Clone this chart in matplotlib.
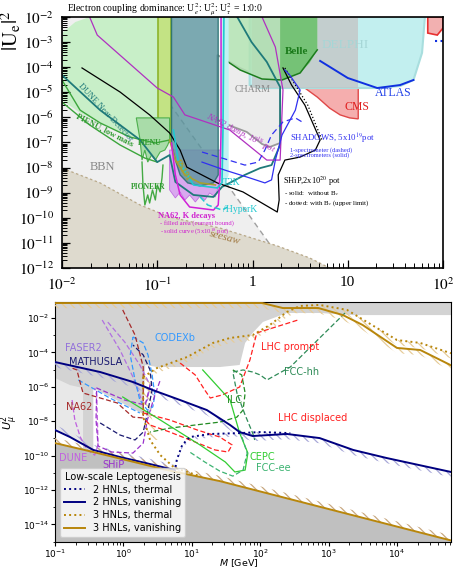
import numpy as np
import matplotlib
matplotlib.use("Agg")
import matplotlib.pyplot as plt
from matplotlib.ticker import FixedLocator, FixedFormatter, LogLocator, NullFormatter

plt.rcParams['hatch.linewidth'] = 0.9
SERIF = ['Liberation Serif', 'DejaVu Serif']

# ---------------- top panel: log10(M/GeV), log10(|U_e|^2) ----------------
bbn_m = [-2.0, -1.52, 0.36, -2.0]
bbn_u = [-2.0, -2.0, -12.0, -12.0]
seesaw_m = [-2.0, -1.60, -1.18, -0.87, -0.34, 0.26, 0.60, 0.81]
seesaw_u = [-8.02, -8.61, -9.49, -9.97, -10.41, -11.12, -11.60, -12.0]
green_m = [-2.0, -1.86, -1.71, -0.85, -0.85, -1.08, -1.29, -1.55, -1.81, -2.0]
green_u = [-2.64, -2.20, -2.0, -2.0, -6.98, -6.98, -6.78, -6.30, -5.82, -5.31]
band_m = [-0.99, -0.86, -0.86, -0.99]
band_u = [-2.0, -2.0, -6.98, -6.98]
teal_m = [-0.85, -0.36, -0.36, -0.41, -0.55, -0.68, -0.76, -0.81, -0.85]
teal_u = [-2.0, -2.0, -8.29, -8.61, -8.73, -8.61, -8.29, -7.70, -7.10]
na62k_m = [-0.87, -0.87, -0.81, -0.76, -0.71, -0.66, -0.60, -0.55, -0.50, -0.45, -0.39, -0.34, -0.32, -0.32]
na62k_u = [-7.30, -8.89, -9.21, -8.97, -9.29, -9.09, -9.37, -9.13, -9.29, -9.01, -9.17, -8.49, -7.70, -7.30]
na62sol_m = [-0.85, -0.81, -0.76, -0.66, -0.41, -0.36, -0.34, -0.33, -0.33]
na62sol_u = [-7.02, -8.29, -9.09, -9.57, -9.69, -9.49, -8.29, -6.50, -2.0]
dump_m = [-1.71, -1.63, -1.00, -0.83, -0.71, -0.24, 0.15, 0.29, 0.32, 0.24, 0.10]
dump_u = [-2.0, -2.72, -4.83, -5.19, -5.90, -6.50, -7.70, -7.70, -4.91, -3.20, -2.0]
dune_m = [-2.0, -1.60, -1.18, -1.00, -0.87, -0.81, -0.62, -0.41, -0.32, -0.18, -0.08,
          0.08, 0.20, 0.29, 0.29, 0.15, -0.01, -0.16]
dune_u = [-4.31, -5.71, -6.90, -7.78, -7.50, -8.57, -9.09, -9.17, -8.77, -8.49, -8.29,
          -8.02, -7.90, -7.10, -4.79, -3.79, -3.0, -2.0]
ship_m = [-1.79, -1.39, -1.08, -0.87, -0.76, -0.69, -0.37, -0.10, 0.08, 0.26, 0.28, 0.27,
          0.34, 0.50, 0.66, 0.71, 0.55, 0.41, 0.32]
ship_u = [-4.03, -4.99, -5.90, -6.62, -7.30, -7.98, -8.61, -8.97, -9.37, -9.77, -9.29,
          -8.29, -7.70, -7.58, -7.30, -6.90, -5.51, -4.71, -4.03]
shipdot_m = [0.34, 0.45, 0.58, 0.73]
shipdot_u = [-4.03, -4.71, -5.51, -6.90]
t2k_m = [-0.83, -0.78, -0.62, -0.37, -0.32, -0.31, -0.30]
t2k_u = [-6.50, -7.70, -8.69, -8.81, -8.61, -6.50, -2.0]
t2kband_m = [-0.34, -0.25, -0.25, -0.29, -0.34]
t2kband_u = [-2.0, -2.0, -8.29, -8.69, -8.49]
hyperk_m = [-0.55, -0.47, -0.32, -0.26]
hyperk_u = [-9.17, -9.49, -9.69, -9.57]
ps191_m = [-0.87, -0.81, -0.71, -0.55, -0.39]
ps191_u = [-6.90, -7.70, -8.29, -8.61, -8.69]
shad2_m = [-0.53, -0.29, -0.03, 0.13, 0.20, 0.24, 0.31, 0.45, 0.50, 0.39, 0.34]
shad2_u = [-7.78, -8.10, -8.41, -8.61, -8.49, -7.70, -6.70, -5.71, -4.91, -4.31, -4.11]
shad1_m = [-0.53, -0.32, -0.08, 0.06, 0.13, 0.20, 0.32, 0.45, 0.52]
shad1_u = [-7.38, -7.62, -7.90, -7.78, -7.30, -6.70, -6.18, -6.02, -6.18]
pienu_m = [-1.22, -1.18, -1.16, -1.13, -1.10, -1.06, -1.02, -0.97, -0.92, -0.89, -0.87, -0.87]
pienu_u = [-6.02, -6.90, -7.70, -7.30, -7.78, -7.50, -7.70, -7.38, -7.30, -7.10, -6.90, -6.02]
pioneer_m = [-1.16, -1.15, -1.13, -1.10, -1.08, -1.05, -1.02, -1.00, -0.97, -0.95, -0.94]
pioneer_u = [-7.78, -8.69, -9.49, -9.09, -9.41, -8.89, -9.29, -8.69, -8.97, -8.41, -7.90]
pienulow_m = [-2.0, -1.81, -1.60, -1.29, -1.02, -0.87]
pienulow_u = [-4.51, -5.71, -6.22, -6.78, -7.02, -6.90]
pienulow2_m = [-2.0, -1.71, -1.39, -1.13, -1.00]
pienulow2_u = [-5.39, -6.30, -7.10, -7.62, -7.78]
charm_m = [-0.37, -0.13, 0.10, 0.29, 0.29, 0.18, 0.10, -0.06, -0.20, -0.37]
charm_u = [-3.51, -4.03, -4.43, -4.59, -7.02, -7.18, -7.06, -6.58, -6.38, -6.10]
greenA_m = [-0.34, 0.68, 0.68, 0.50, 0.31, 0.10, -0.13, -0.32]
greenA_u = [-2.0, -2.0, -3.31, -4.23, -4.51, -4.47, -4.11, -3.63]
belle_m = [0.29, 0.68, 0.68, 0.60, 0.50, 0.31, 0.29]
belle_u = [-2.0, -2.0, -3.31, -3.83, -4.23, -4.51, -4.51]
delphi_m = [-0.03, 1.81, 1.78, 1.69, 1.55, 1.31, 0.08, -0.03]
delphi_u = [-2.0, -2.0, -3.43, -4.51, -4.75, -4.83, -4.83, -4.71]
dgray_m = [-0.01, 1.11, 1.11, -0.01]
dgray_u = [-2.0, -2.0, -4.83, -4.83]
cms_m = [0.39, 0.55, 0.68, 0.81, 0.92, 1.02, 1.11, 1.11]
cms_u = [-4.31, -4.83, -5.19, -5.63, -5.90, -6.02, -6.06, -4.31]
atlas_m = [0.71, 1.00, 1.31, 1.55, 1.69]
atlas_u = [-3.75, -4.43, -4.83, -4.71, -4.51]
red_m = [1.84, 1.84, 1.94, 2.0, 2.0]
red_u = [-2.0, -2.64, -2.72, -2.44, -2.0]

# ---------------- bottom panel: log10(M/GeV), log10(U_mu^2) ----------------
gray_m = [-1.0, 4.79, 4.79, 3.36, 2.87, 2.39, 2.04, 1.89, 1.78, 1.70, 1.41, 0.49, 0.32,
          0.29, -0.44, -0.44, -0.59, -0.59, -0.78, -1.0]
gray_u = [-0.5, -0.5, -1.83, -1.83, -1.71, -1.71, -2.23, -2.87, -3.45, -4.73, -4.85, -4.85,
          -4.73, -7.58, -6.07, -10.14, -10.14, -6.07, -5.90, -5.49]
lgray_m = [-1.0, -0.59, -0.59, -0.44, -0.44, -0.78, -1.0]
lgray_u = [-5.49, -6.07, -10.14, -10.14, -9.79, -8.92, -8.40]
van3_lo_m = [-1.0, -0.44, 0.64, 1.41, 4.77, 4.79]
van3_lo_u = [-9.27, -9.79, -10.84, -11.48, -14.91, -14.93]
van3_hi_m = [-1.0, 2.03, 2.33, 2.85, 3.21, 3.50, 4.00, 4.34, 4.79]
van3_hi_u = [-1.13, -1.13, -1.42, -1.42, -1.83, -2.41, -3.74, -3.86, -4.75]
th3_hi_m = [0.29, 0.49, 0.93, 1.31, 1.56, 1.89, 2.14, 2.39, 2.58, 2.87, 3.27, 3.56, 4.00, 4.34, 4.79]
th3_hi_u = [-5.43, -4.91, -4.27, -3.45, -3.16, -2.99, -2.41, -1.65, -1.30, -1.24, -1.53,
            -2.23, -3.28, -3.45, -4.05]
th3_lo_m = [0.29, 0.29, 0.39, 0.54, 0.75, 1.12]
th3_lo_u = [-5.43, -7.76, -9.09, -9.97, -10.72, -11.19]
van2_hi_m = [-1.0, -0.34, 0.14, 0.43, 0.83, 1.22, 1.56, 1.70, 1.89, 2.39, 2.87, 3.36, 3.85, 4.79]
van2_hi_u = [-4.56, -5.14, -5.72, -6.19, -6.77, -7.35, -8.22, -8.63, -8.86, -8.74, -8.98,
             -9.67, -10.14, -10.95]
van2_lo_m = [-1.0, -0.78, -0.44, -0.05, 0.39, 0.75]
van2_lo_u = [-8.51, -8.92, -9.67, -10.08, -10.49, -10.84]
th2_m = [0.75, 0.78, 0.86, 0.97, 1.27, 1.70, 2.00, 2.44]
th2_u = [-10.95, -10.26, -9.38, -8.92, -8.74, -8.69, -8.63, -8.69]

faser_m = [-0.31, -0.05, 0.14, 0.24, 0.29, 0.35, 0.39, 0.24, 0.02, -0.23]
faser_u = [-2.12, -3.86, -5.43, -6.48, -7.06, -6.77, -5.90, -4.73, -3.40, -2.23]
mathusla_m = [-0.34, -0.05, 0.17, 0.29, 0.36, 0.42, 0.39, 0.29, 0.14]
mathusla_u = [-8.10, -8.80, -9.09, -8.63, -7.35, -6.19, -5.02, -4.15, -3.57]
codex_m = [0.14, 0.29, 0.36, 0.42, 0.46, 0.43, 0.35, 0.24, 0.17, 0.10, 0.14]
codex_u = [-3.10, -3.45, -4.15, -5.31, -6.48, -7.17, -7.35, -6.77, -5.60, -4.15, -3.10]
codex2_m = [-0.66, -0.20, 0.24]
codex2_u = [-5.60, -6.65, -7.52]
na62_m = [-0.01, 0.17, 0.29, 0.29, 0.14, -0.09, -0.39, -0.59, -0.63, -0.68, -0.75]
na62_u = [-1.53, -2.99, -4.85, -7.81, -7.76, -6.94, -6.59, -6.36, -5.78, -5.02, -4.91]
dune2_m = [-0.75, -0.71, -0.63, -0.53, -0.42, -0.37, -0.39, -0.42]
dune2_u = [-6.77, -7.93, -8.92, -9.67, -9.97, -9.38, -6.48, -6.07]
ship2_m = [0.39, 0.32, 0.02, -0.39, -0.40, -0.37, -0.17, 0.14, 0.29, 0.35, 0.46, 0.54]
ship2_u = [-5.90, -7.06, -6.77, -6.07, -7.93, -9.44, -9.79, -9.85, -9.27, -7.93, -6.48, -5.60]
lhcp_m = [0.83, 1.05, 1.19, 1.27, 1.44, 1.70, 1.85, 1.95, 2.55]
lhcp_u = [-4.62, -5.31, -6.19, -6.65, -6.48, -6.01, -4.44, -2.87, -2.12]
lhcd_m = [0.29, 0.68, 1.08, 1.41, 1.59, 1.53, 1.34, 1.05, 0.68, 0.39, 0.29]
lhcd_u = [-7.52, -7.93, -8.51, -8.92, -9.38, -9.79, -9.67, -9.21, -8.63, -8.22, -7.81]
ilc_m = [1.60, 1.73, 1.78, 1.75, 1.66, 1.41, 1.05, 0.68, 0.39]
ilc_u = [-5.02, -5.31, -6.36, -7.35, -7.76, -8.05, -8.22, -8.40, -8.63]
fcchh_m = [3.24, 2.44, 2.10, 2.00, 1.89, 1.75, 1.60, 1.66, 1.78, 1.89, 1.92]
fcchh_u = [-1.71, -4.85, -5.60, -5.31, -5.14, -5.02, -5.14, -6.36, -7.64, -8.69, -9.09]
cepc_m = [-0.01, 0.54, 1.12, 1.49, 1.63, 1.78, 1.82, 1.70, 1.56, 1.16]
cepc_u = [-6.59, -7.93, -9.38, -10.37, -10.95, -10.84, -9.85, -8.69, -6.77, -5.02]
fccee_m = [1.70, 1.81, 1.75, 1.60, 1.41, 1.19, 0.97]
fccee_u = [-8.51, -9.85, -10.84, -11.19, -10.90, -10.37, -9.79]


def P(v):
    return 10.0 ** np.asarray(v, dtype=float)


def hatch_band(ax, m, u, side, color, hatch, width=0.3):
    x, y = P(m), P(u)
    y2 = y * 10 ** (-width) if side == 'below' else y * 10 ** width
    ax.fill_between(x, y, y2, facecolor='none', edgecolor=color, hatch=hatch,
                    linewidth=0, zorder=3)


fig = plt.figure(figsize=(4.53, 5.71), dpi=100)

# ======================= top panel =======================
ax = fig.add_axes([62 / 453, 1 - 268 / 571, 381 / 453, 251 / 571])
ax.set_xscale('log')
ax.set_yscale('log')

ax.fill(P(bbn_m), P(bbn_u), color='#efefef', lw=0, zorder=0)
ax.plot(P(bbn_m[1:3]), P(bbn_u[1:3]), ls=(0, (4, 3)), color='#a0a0a0', lw=1.0, zorder=1)
ax.fill(P(seesaw_m + [-2.0]), P(seesaw_u + [-12.0]), color='#dedace', lw=0, zorder=1)
ax.plot(P(seesaw_m), P(seesaw_u), ls=(0, (2, 2)), color='#b8a888', lw=0.9, zorder=1)

ax.fill(P(green_m), P(green_u), color='#c8efc8', lw=0, zorder=1)
ax.fill(P(charm_m), P(charm_u), facecolor='#ececec', edgecolor='#9a9a9a', lw=1.3, zorder=2)
ax.plot(P([0.29, 0.29]), P([-2.0, -4.59]), color='#a8a8a8', lw=1.0, zorder=2)
ax.fill(P(cms_m), P(cms_u), facecolor='#f5aeae', edgecolor='#e04848', lw=1.0, zorder=2)
ax.fill(P(delphi_m), P(delphi_u), facecolor='#c2efef', edgecolor='#a8dede', lw=1.5, zorder=2)
ax.fill(P(dgray_m), P(dgray_u), facecolor='#c4c4c4', alpha=0.75, lw=0, zorder=2)
ax.fill(P(greenA_m), P(greenA_u), facecolor='#b2e2b2', alpha=0.85, lw=0, zorder=3)
ax.fill(P(belle_m), P(belle_u), facecolor='#6fbf6f', alpha=0.9, lw=0, zorder=3)
ax.plot(P(greenA_m[2:]), P(greenA_u[2:]), color='#1c7d1c', lw=1.1, zorder=3)
ax.fill(P(red_m), P(red_u), facecolor='#f2b0b0', edgecolor='#e83030', lw=1.2, zorder=3)
ax.plot(P([1.92, 2.0]), P([-2.96, -2.96]), color='#1030e0', ls=':', lw=1.5, zorder=3)
ax.plot(P(atlas_m), P(atlas_u), color='#1030e0', lw=1.4, zorder=4)

ax.fill(P(band_m), P(band_u), facecolor='#c3e384', edgecolor='#8db32b', lw=1.2, zorder=3)
ax.fill(P(na62k_m), P(na62k_u), facecolor='#d9a8ef', edgecolor='#c070e0', lw=0.6, zorder=3)
ax.fill(P(teal_m), P(teal_u), facecolor='#5a949e', alpha=0.8, edgecolor='#1e6b6b', lw=1.0, zorder=4)
ax.fill(P(t2kband_m), P(t2kband_u), facecolor='#bff3f3', lw=0, zorder=4)
ax.fill(P(pienu_m), P(pienu_u), facecolor='#a9dca9', edgecolor='#4caf4c', lw=0.8, zorder=4)
ax.plot(P(pioneer_m), P(pioneer_u), color='#44aa44', lw=1.0, zorder=4)
ax.plot(P(pienulow_m), P(pienulow_u), color='#3ca63c', lw=1.0, zorder=4)
ax.plot(P(pienulow2_m), P(pienulow2_u), color='#3ca63c', lw=1.0, zorder=4)

ax.plot(P(ps191_m), P(ps191_u), color='#a8a030', lw=1.2, zorder=5)
ax.plot(P(dune_m), P(dune_u), color='#1f7a7a', lw=1.3, zorder=5)
ax.plot(P(ship_m), P(ship_u), color='black', lw=0.9, zorder=5)
ax.plot(P(shipdot_m), P(shipdot_u), color='black', lw=0.9, ls=':', zorder=5)
ax.plot(P(dump_m), P(dump_u), color='#b030c0', lw=0.9, zorder=5)
ax.plot(P(na62sol_m), P(na62sol_u), color='#d020d8', lw=1.1, zorder=5)
ax.plot(P(t2k_m), P(t2k_u), color='#20c8d0', lw=1.2, zorder=5)
ax.plot(P(hyperk_m), P(hyperk_u), color='#20c8d0', lw=1.1, ls=(0, (4, 2)), zorder=5)
ax.plot(P(shad2_m), P(shad2_u), color='#3030f0', lw=0.9, zorder=5)
ax.plot(P(shad1_m), P(shad1_u), color='#3030f0', lw=0.9, ls=(0, (5, 3)), zorder=5)

ax.set_xlim(1e-2, 1e2)
ax.set_ylim(1e-12, 1e-2)
ax.xaxis.set_major_locator(FixedLocator([1e-2, 1e-1, 1, 10, 100]))
ax.xaxis.set_major_formatter(FixedFormatter(['$10^{-2}$', '$10^{-1}$', '1', '10', '$10^{2}$']))
ax.xaxis.set_minor_locator(LogLocator(subs=np.arange(2, 10), numticks=20))
ax.xaxis.set_minor_formatter(NullFormatter())
ydec = [10.0 ** k for k in range(-12, -1)]
ax.yaxis.set_major_locator(FixedLocator(ydec))
ax.yaxis.set_major_formatter(FixedFormatter(['$10^{%d}$' % k for k in range(-12, -1)]))
ax.yaxis.set_minor_locator(LogLocator(subs=np.arange(2, 10), numticks=20))
ax.yaxis.set_minor_formatter(NullFormatter())
ax.tick_params(which='both', direction='in', top=False, right=False)
ax.tick_params(which='major', length=6, width=0.9, labelsize=11, pad=6)
ax.tick_params(which='minor', length=3.5, width=0.7)
for lab in ax.get_xticklabels() + ax.get_yticklabels():
    lab.set_family(SERIF)
    lab.set_math_fontfamily('stix')
for s in ax.spines.values():
    s.set_linewidth(1.2)
    s.set_zorder(10)

fig.text(11 / 453, 1 - 31 / 571, r'$|\mathrm{U_e}|^2$', rotation=90, ha='center', va='center',
         fontsize=15, math_fontfamily='stix')
fig.text(67 / 453, 1 - 10 / 571,
         r'Electron coupling dominance: U$_e^2$: U$_\mu^2$: U$_\tau^2$ = 1:0:0',
         ha='left', va='center', fontsize=7, family=SERIF, math_fontfamily='stix')


def tt(m, u, s, **kw):
    kw.setdefault('family', SERIF)
    kw.setdefault('math_fontfamily', 'stix')
    kw.setdefault('zorder', 8)
    ax.text(10 ** m, 10 ** u, s, **kw)


tt(-1.58, -7.98, 'BBN', color='#888888', fontsize=9, ha='center', va='center')
tt(0.005, -4.87, 'CHARM', color='#888888', fontsize=7, ha='center', va='center')
tt(0.46, -3.39, 'Belle', color='#1a7a1a', fontsize=8, weight='bold', ha='center', va='center')
tt(0.97, -3.12, 'DELPHI', color='#a6d6d6', fontsize=9.5, ha='center', va='center')
tt(1.48, -5.03, 'ATLAS', color='#2040e8', fontsize=8.5, ha='center', va='center')
tt(1.10, -5.59, 'CMS', color='#e02020', fontsize=8.5, ha='center', va='center')
tt(0.39, -6.86, r'SHADOWS, 5x10$^{19}$pot', color='#3030f0', fontsize=6.3, ha='left', va='center')
tt(0.39, -7.17, '1-spectrometer (dashed)\n2-spectrometers (solid)', color='#3030f0',
   fontsize=4.6, ha='left', va='top', linespacing=1.0)
tt(0.32, -8.53, r'SHiP,2x10$^{20}$ pot', color='black', fontsize=6, ha='left', va='center')
tt(0.33, -8.87, '- solid:  without B$_c$\n- dotted: with B$_c$ (upper limit)', color='black',
   fontsize=5.0, ha='left', va='top', linespacing=0.95)
tt(-0.31, -8.61, 'T2K', color='#20c8d0', fontsize=7, ha='left', va='center')
tt(-0.31, -9.65, '/HyperK', color='#20c8d0', fontsize=7, ha='left', va='center')
tt(-0.99, -9.93, 'NA62, K decays', color='#d020d0', fontsize=6, weight='bold', ha='left', va='center')
tt(-0.97, -10.08, '- filled area (current bound)\n- solid curve (5x10$^{18}$ pot)', color='#d020d0',
   fontsize=4.8, ha='left', va='top', linespacing=1.05)
tt(-0.29, -10.80, 'seesaw', color='#a07840', fontsize=8, style='italic', rotation=-15,
   ha='center', va='center')
tt(-1.08, -7.02, 'PIENU', color='#2e9a2e', fontsize=5.5, weight='bold', ha='center', va='center')
tt(-1.10, -8.77, 'PIONEER', color='#2e9a2e', fontsize=5.5, weight='bold', ha='center', va='center')
tt(-1.55, -6.50, 'PIENU, low mass', color='#2e9a2e', fontsize=6, weight='bold', rotation=-27,
   ha='center', va='center')
tt(-1.54, -5.82, 'DUNE Near Detector', color='#1f7a7a', fontsize=6.3, rotation=-47,
   ha='center', va='center')
tt(-0.13, -6.66, r'NA62 dump, 10$^{18}$ pot', color='#b030c0', fontsize=6.3, style='italic',
   rotation=-27, ha='center', va='center')
tt(-0.73, -8.10, 'PS191', color='#a8a030', fontsize=6.5, weight='bold', rotation=-60,
   ha='center', va='center')

# ======================= bottom panel =======================
bx = fig.add_axes([55 / 453, 1 - 542 / 571, 396 / 453, 240 / 571])
bx.set_xscale('log')
bx.set_yscale('log')

bx.fill(P(lgray_m), P(lgray_u), color='#e8e8e8', lw=0, zorder=0)
bx.fill(P(gray_m), P(gray_u), color='#d3d3d3', lw=0, zorder=0)
bx.fill_between(P(van3_lo_m), P(van3_lo_u), 1e-17, color='#c0c0c0', lw=0, zorder=0)

nav_h = '#a8a8d8'
brn_h = '#e6cc99'
hatch_band(bx, van2_hi_m, van2_hi_u, 'below', nav_h, '\\\\\\\\')
hatch_band(bx, van2_lo_m, van2_lo_u, 'above', nav_h, '\\\\\\\\')
hatch_band(bx, th2_m, th2_u, 'below', nav_h, '\\\\\\\\', width=0.2)
hatch_band(bx, van3_hi_m, van3_hi_u, 'below', brn_h, '\\\\\\\\')
hatch_band(bx, van3_lo_m, van3_lo_u, 'above', '#c8a880', '\\\\\\\\')
hatch_band(bx, th3_hi_m, th3_hi_u, 'below', brn_h, '\\\\\\\\')
bx.fill_betweenx(P(th3_lo_u[:3]), P(th3_lo_m[:3]), P(th3_lo_m[:3]) * 10 ** 0.12,
                 facecolor='none', edgecolor=brn_h, hatch='\\\\\\\\', linewidth=0, zorder=3)

dash = (0, (4, 2))
bx.plot(P(faser_m), P(faser_u), color='#b070e0', lw=0.9, ls=dash, zorder=4)
bx.plot(P(mathusla_m), P(mathusla_u), color='#191970', lw=0.9, ls=dash, zorder=4)
bx.plot(P(codex_m), P(codex_u), color='#3399ff', lw=0.9, ls=dash, zorder=4)
bx.plot(P(codex2_m), P(codex2_u), color='#3399ff', lw=0.9, ls=dash, zorder=4)
bx.plot(P(na62_m), P(na62_u), color='#a52a2a', lw=0.9, ls=dash, zorder=4)
bx.plot(P(dune2_m), P(dune2_u), color='#c060e0', lw=0.9, ls=dash, zorder=4)
bx.plot(P(ship2_m), P(ship2_u), color='#9932cc', lw=0.9, ls=dash, zorder=4)
bx.plot(P(lhcp_m), P(lhcp_u), color='#ff2020', lw=0.9, ls=dash, zorder=4)
bx.plot(P(lhcd_m), P(lhcd_u), color='#ff2020', lw=0.9, ls=dash, zorder=4)
bx.plot(P(ilc_m), P(ilc_u), color='#228b22', lw=0.9, ls=dash, zorder=4)
bx.plot(P(fcchh_m), P(fcchh_u), color='#2e8b57', lw=0.9, ls=dash, zorder=4)
bx.plot(P(cepc_m), P(cepc_u), color='#32cd32', lw=0.9, zorder=4)
bx.plot(P(fccee_m), P(fccee_u), color='#3cb371', lw=0.9, ls=dash, zorder=4)

navy = '#000080'
gold = '#b8860b'
l1, = bx.plot(P(th2_m), P(th2_u), color=navy, lw=1.4, ls=':', zorder=5)
l2, = bx.plot(P(van2_hi_m), P(van2_hi_u), color=navy, lw=1.4, zorder=5)
bx.plot(P(van2_lo_m), P(van2_lo_u), color=navy, lw=1.4, zorder=5)
l3, = bx.plot(P(th3_hi_m), P(th3_hi_u), color=gold, lw=1.4, ls=':', zorder=5)
bx.plot(P(th3_lo_m), P(th3_lo_u), color=gold, lw=1.4, ls=':', zorder=5)
l4, = bx.plot(P(van3_hi_m), P(van3_hi_u), color=gold, lw=1.4, zorder=5)
bx.plot(P(van3_lo_m), P(van3_lo_u), color=gold, lw=1.4, zorder=5)

bx.set_xlim(0.1, 10 ** 4.79)
bx.set_ylim(10 ** -15.02, 10 ** -1.07)
bx.yaxis.set_major_locator(FixedLocator([10.0 ** k for k in range(-14, -1, 2)]))
bx.yaxis.set_minor_locator(FixedLocator([10.0 ** k for k in range(-15, -1, 2)]))
bx.yaxis.set_minor_formatter(NullFormatter())
bx.xaxis.set_major_locator(LogLocator(numticks=10))
bx.xaxis.set_minor_locator(LogLocator(subs=np.arange(2, 10), numticks=20))
bx.xaxis.set_minor_formatter(NullFormatter())
bx.tick_params(which='major', labelsize=6.5, length=3, width=0.8, pad=1.0)
bx.tick_params(which='minor', length=1.8, width=0.6)
bx.set_xlabel('$M$ [GeV]', fontsize=6.8)
bx.set_ylabel(r'$U_\mu^2$', fontsize=8)
bx.xaxis.set_label_coords(0.465, -0.064)
bx.yaxis.set_label_coords(-0.085, 0.5)


def bt(m, u, s, c):
    bx.text(10 ** m, 10 ** u, s, color=c, fontsize=7, ha='center', va='center', zorder=6)


bt(-0.59, -3.74, 'FASER2', '#9370db')
bt(-0.40, -4.56, 'MATHUSLA', '#191970')
bt(0.75, -3.16, 'CODEXb', '#3399ff')
bt(-0.65, -7.17, 'NA62', '#a52a2a')
bt(-0.74, -10.14, 'DUNE', '#c060e0')
bt(-0.15, -10.55, 'SHiP', '#9932cc')
bt(1.63, -6.77, 'ILC', '#228b22')
bt(2.44, -3.69, 'LHC prompt', '#ff2020')
bt(2.61, -5.14, 'FCC-hh', '#2e8b57')
bt(2.76, -7.81, 'LHC displaced', '#ff2020')
bt(2.03, -10.08, 'CEPC', '#32cd32')
bt(2.19, -10.72, 'FCC-ee', '#3cb371')

leg = bx.legend([l1, l2, l3, l4],
                ['2 HNLs, thermal', '2 HNLs, vanishing', '3 HNLs, thermal', '3 HNLs, vanishing'],
                title='Low-scale Leptogenesis', loc='lower left', fontsize=7, title_fontsize=7,
                framealpha=0.8, borderpad=0.4, labelspacing=0.3, handlelength=2.2)
leg.set_zorder(9)

fig.savefig('out.png', dpi=100)
